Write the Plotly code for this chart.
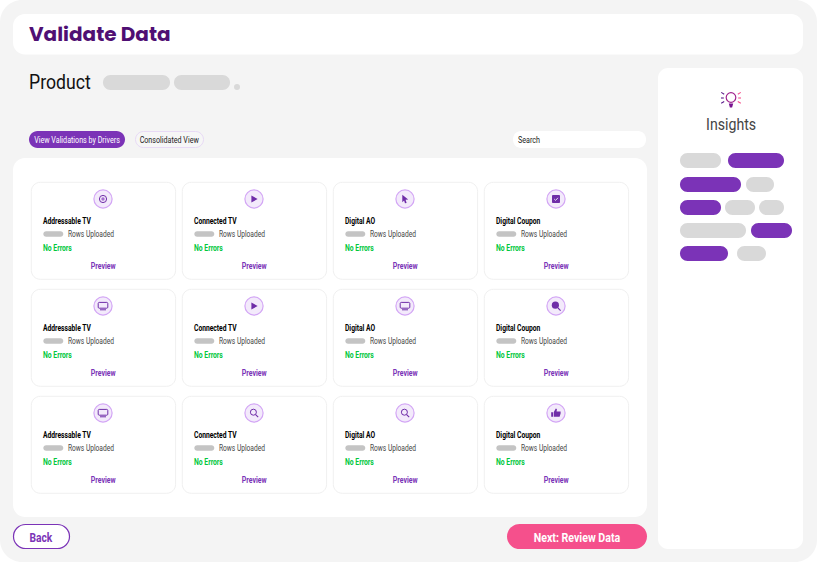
import json
import plotly.graph_objects as go

# ---- content ----
TITLE = "Validate Data"
SUBTITLE = "Product"
TAB_ACTIVE = "View Validations by Drivers"
TAB_OTHER = "Consolidated View"
SEARCH = "Search"
DRIVERS = ["Addressable TV", "Connected TV", "Digital AO", "Digital Coupon"]
ROWS_LABEL = "Rows Uploaded"
STATUS = "No Errors"
ACTION = "Preview"
ICONS = [["target", "play", "cursor", "check"],
         ["monitor", "play", "monitor", "zoomfill"],
         ["monitor", "search", "search", "thumb"]]
INSIGHTS = "Insights"
BACK = "Back"
NEXT = "Next: Review Data"

# ---- layout / style ----
W, H = 817, 562
PURPLE = "#7B33B7"
GREY = "#D9D9D9"
BG = "#F4F4F4"
SANS = "Roboto, sans-serif"
COL_X = [31.3, 182.3, 333.3, 484.3]
ROW_Y = [182.3, 289.3, 396.3]
CARD_W, CARD_H = 144.3, 97
INS_ROWS = [(153, [(680, 721, 0), (728, 784, 1)]),
            (177, [(680, 741, 1), (746, 774, 0)]),
            (200, [(680, 721, 1), (725, 755, 0), (759, 784, 0)]),
            (223, [(680, 746, 0), (751, 792, 1)]),
            (246, [(680, 728, 1), (737, 766, 0)])]

shapes, ann, squeeze = [], [], []


def rr(x0, y0, x1, y1, r, fill, line=None, lw=1):
    r = min(r, (x1 - x0) / 2, (y1 - y0) / 2)
    k = 0.45 * r
    p = (f"M{x0+r},{y0} L{x1-r},{y0} C{x1-k},{y0} {x1},{y0+k} {x1},{y0+r} "
         f"L{x1},{y1-r} C{x1},{y1-k} {x1-k},{y1} {x1-r},{y1} "
         f"L{x0+r},{y1} C{x0+k},{y1} {x0},{y1-k} {x0},{y1-r} "
         f"L{x0},{y0+r} C{x0},{y0+k} {x0+k},{y0} {x0+r},{y0} Z")
    shapes.append(dict(type="path", path=p, fillcolor=fill,
                       line=dict(color=line or fill, width=lw if line else 0), layer="above"))


def circ(cx, cy, r, fill="rgba(0,0,0,0)", line=None, lw=1):
    shapes.append(dict(type="circle", x0=cx - r, x1=cx + r, y0=cy - r, y1=cy + r, fillcolor=fill,
                       line=dict(color=line or fill, width=lw if line else 0), layer="above"))


def poly(cx, cy, pts, fill=None, line=None, lw=1, closed=True):
    p = "M" + " L".join(f"{cx+a},{cy+b}" for a, b in pts) + (" Z" if closed else "")
    shapes.append(dict(type="path", path=p, fillcolor=fill or "rgba(0,0,0,0)",
                       line=dict(color=line or "rgba(0,0,0,0)", width=lw if line else 0), layer="above"))


def text(x, y, s, size, color, anchor="left", weight="normal", family=SANS, sq=0.8):
    ann.append(dict(x=x, y=y, text=s, showarrow=False, xanchor=anchor, yanchor="middle", align=anchor,
                    font=dict(size=size, color=color, family=family, weight=weight),
                    xref="x", yref="y", borderpad=0, borderwidth=0))
    squeeze.append(sq)


def icon(kind, cx, cy):
    circ(cx, cy, 9.1, "#F3EAFB", "#D3A6F5", 1.2)
    d = "#6F2DA8"
    if kind == "target":
        circ(cx, cy, 3.6, "rgba(0,0,0,0)", d, 1)
        circ(cx, cy, 1.7, "#A56FD0")
    elif kind == "play":
        poly(cx, cy, [(-2.6, -3.6), (3.6, 0), (-2.6, 3.6)], d)
    elif kind == "cursor":
        poly(cx, cy, [(-2.7, -4.3), (3.2, 0.6), (0.6, 0.8), (1.6, 4), (0, 4.2), (-0.9, 1.6), (-2.7, 3.2)], d)
    elif kind == "check":
        rr(cx - 4, cy - 4, cx + 4, cy + 4, 0.8, d)
        poly(cx, cy, [(-1.8, 0), (-0.4, 1.4), (2, -1.2)], None, "#FFFFFF", 0.8, False)
    elif kind == "monitor":
        rr(cx - 4.8, cy - 3.6, cx + 4.8, cy + 2.2, 1, "rgba(0,0,0,0)", d, 1)
        poly(cx, cy, [(-3, 3.8), (3, 3.8)], None, d, 1, False)
    elif kind == "search":
        circ(cx - 0.6, cy - 0.8, 3, "rgba(0,0,0,0)", d, 1)
        poly(cx, cy, [(1.6, 1.6), (4.2, 4.2)], None, d, 1.1, False)
    elif kind == "zoomfill":
        circ(cx - 0.6, cy - 0.8, 3.6, d)
        poly(cx, cy, [(2, 2), (4.6, 4.6)], None, d, 1.1, False)
    elif kind == "thumb":
        rr(cx - 4.8, cy - 0.8, cx - 3, cy + 3.8, 0.3, d)
        poly(cx, cy, [(-2.3, -0.8), (-0.2, -4.4), (0.9, -4), (0.6, -1.4), (4.6, -1.4), (4.6, 0.4), (3.6, 3.8), (-2.3, 3.8)], d)


# page
rr(0, 0, W, H, 22, BG)
rr(13, 14, 803, 54.5, 12, "#FFFFFF")
rr(13, 158, 647, 517, 12, "#FFFFFF")
rr(658, 68, 803, 549, 10, "#FFFFFF")

# header
text(29, 33.5, TITLE, 20, "#4F0F73", weight="bold", family="Poppins, Inter, sans-serif", sq=1)
text(29, 82, SUBTITLE, 21, "#111111", sq=0.84)
rr(103, 75, 170, 90, 8, GREY)
rr(174, 75, 230, 90, 8, GREY)
circ(237, 87, 3, GREY)

# tabs
rr(29, 131, 125, 148, 9, PURPLE)
text(77, 139.5, TAB_ACTIVE, 8.5, "#FFFFFF", "center", sq=0.84)
rr(135.5, 131.5, 203.5, 147.5, 8, "#F6F6F6", "#E8DAF5", 1)
text(169.5, 139.5, TAB_OTHER, 8.5, "#222222", "center", sq=0.84)
rr(513, 131, 646, 148, 8, "#FFFFFF")
text(518, 139.5, SEARCH, 8.5, "#222222", sq=0.84)

# cards
for r, y in enumerate(ROW_Y):
    for c, x in enumerate(COL_X):
        rr(x, y, x + CARD_W, y + CARD_H, 9, "#FFFFFF", "#F0F0F0", 1)
        icon(ICONS[r][c], x + 71.7, y + 16.7)
        text(x + 12, y + 38.2, DRIVERS[c], 8.5, "#000000", weight="bold", sq=0.79)
        rr(x + 12, y + 49, x + 32, y + 54.5, 2.8, "#C4C4C4")
        text(x + 36.5, y + 51.5, ROWS_LABEL, 8.5, "#444444", sq=0.78)
        text(x + 12, y + 65.3, STATUS, 8.5, "#00C73C", weight="bold", sq=0.8)
        text(x + 71.7, y + 84, ACTION, 8.5, PURPLE, "center", weight="bold", sq=0.82)

# insights panel
cx, cy = 731, 98
circ(cx, cy - 0.5, 4.8, "rgba(0,0,0,0)", "#A0258F", 1.2)
poly(cx, cy, [(-2.2, 5.5), (2.2, 5.5), (1.1, 9.4), (-1.1, 9.4)], "#7A1490")
for (a0, b0, a1, b1, col) in [(-6.8, -3.8, -9.8, -5.6, "#5A1A8A"), (-7.2, 0, -10, 0, "#5A1A8A"), (-6.8, 3.6, -9.8, 5.2, "#5A1A8A"),
                              (6.8, -3.8, 9.8, -5.6, "#F5508C"), (7.2, 0, 10, 0, "#F5508C"), (6.8, 3.6, 9.8, 5.2, "#F5508C")]:
    poly(cx, cy, [(a0, b0), (a1, b1)], None, col, 1.1, False)
text(730.5, 124.2, INSIGHTS, 17, "#444444", "center", sq=0.83)
for y, pills in INS_ROWS:
    for x0, x1, on in pills:
        rr(x0, y, x1, y + 15, 7.5, PURPLE if on else GREY)

# footer buttons
rr(13.5, 524.5, 69.5, 548.5, 12, "#FFFFFF", PURPLE, 1.2)
text(41, 537, BACK, 12.5, PURPLE, "center", weight="bold", sq=0.82)
rr(507, 524, 647, 549, 12.5, "#F5508C")
text(577, 537, NEXT, 12.5, "#FFFFFF", "center", weight="bold", sq=0.85)

fig = go.Figure()
fig.update_layout(width=W, height=H, margin=dict(l=0, r=0, t=0, b=0, pad=0),
                  paper_bgcolor="#FFFFFF", plot_bgcolor="#FFFFFF", showlegend=False,
                  xaxis=dict(range=[0, W], visible=False, fixedrange=True),
                  yaxis=dict(range=[H, 0], visible=False, fixedrange=True),
                  shapes=shapes, annotations=ann)
POST = """
document.body.style.margin='0';
var sq = %s;
document.querySelectorAll('g.annotation').forEach(function(g){
  var i = +g.getAttribute('data-index');
  var t = g.querySelector('text');
  if (!t || sq[i] === 1) return;
  t.setAttribute('textLength', t.getComputedTextLength() * sq[i]);
  t.setAttribute('lengthAdjust', 'spacingAndGlyphs');
});
""" % json.dumps(squeeze)
fig.write_html("out.html", config=dict(displayModeBar=False), post_script=POST)
